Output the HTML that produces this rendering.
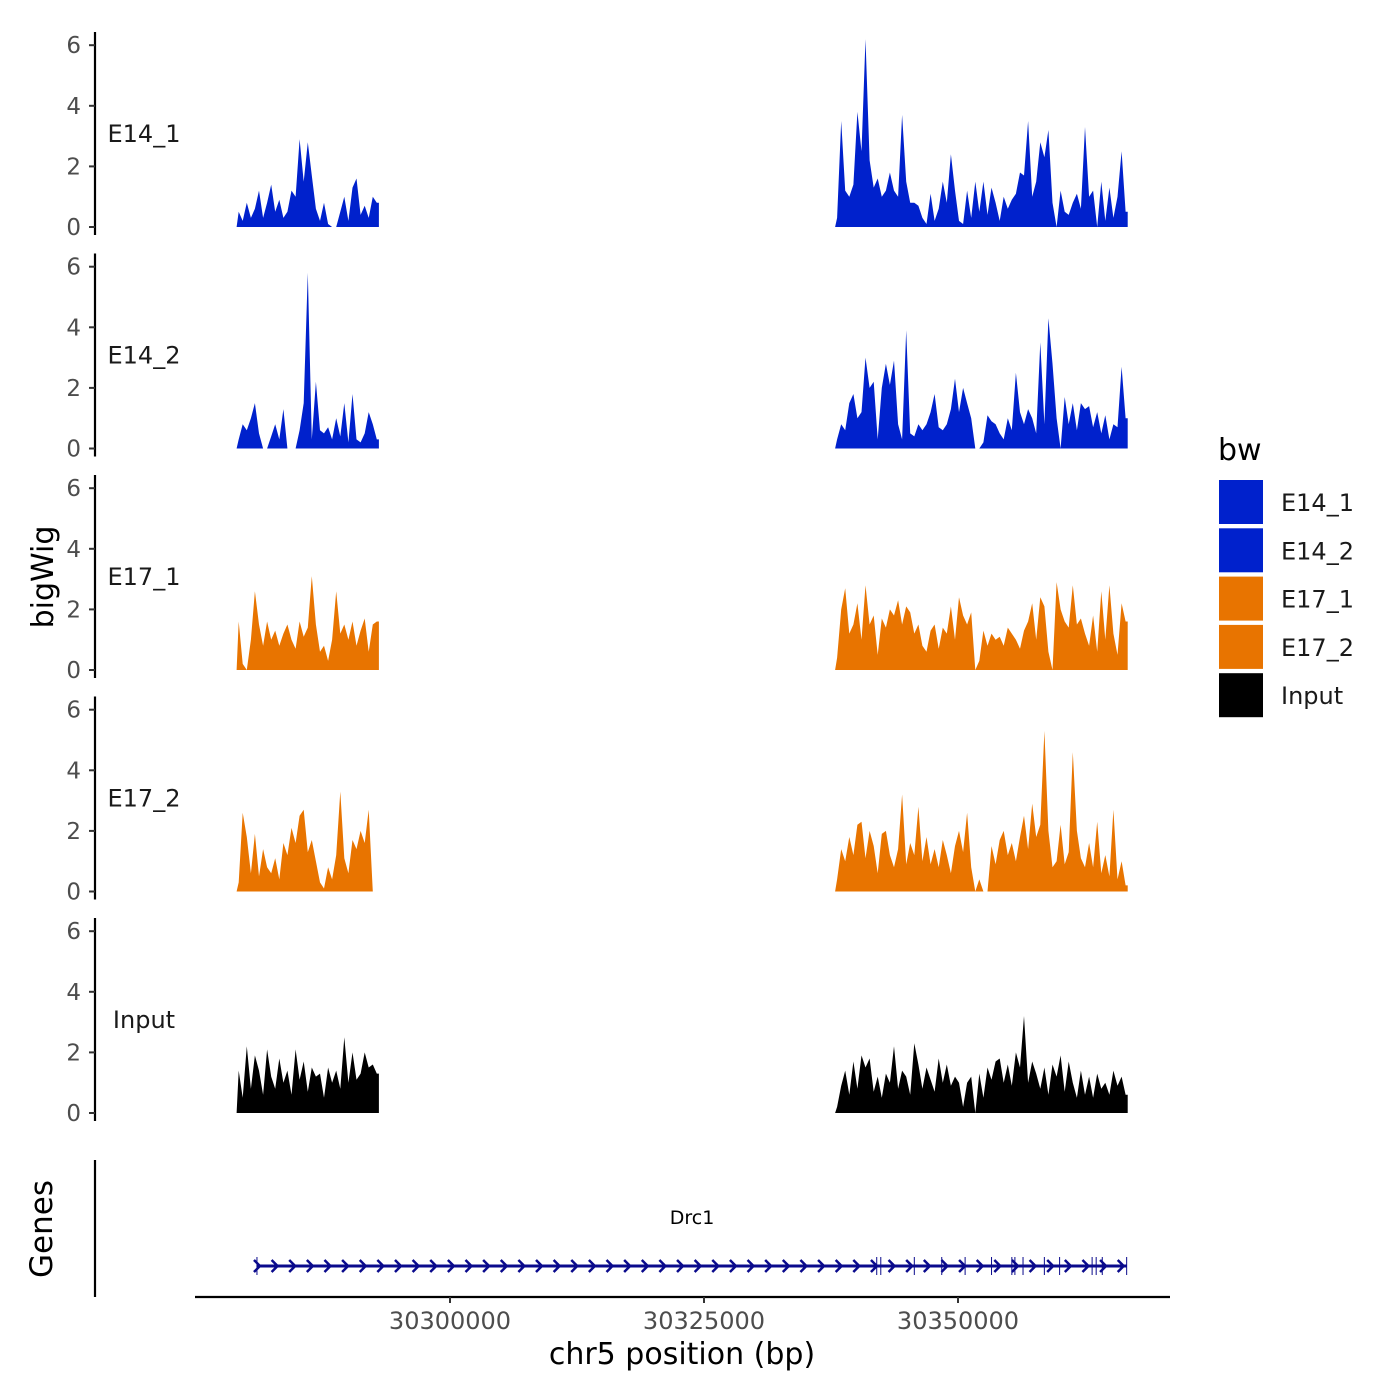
<!DOCTYPE html>
<html><head><meta charset="utf-8"><style>
body{margin:0;background:#fff}
svg{display:block;font-family:"DejaVu Sans","Liberation Sans",sans-serif}
</style></head><body>
<svg id="chart" width="1400" height="1400" viewBox="0 0 1400 1400"></svg>
<script>
const trackNames = ["E14_1","E14_2","E17_1","E17_2","Input"];
const trackColors = ["#0021CC","#0021CC","#E87400","#E87400","#000000"];
const yTicks = [0,2,4,6];
const xTicks = [30300000,30325000,30350000];
const xTickLabels = ["30300000","30325000","30350000"];
const leftStart = 30279000, rightStart = 30337900, binSize = 400;
const e14_1_left = [0.5,0.2,0.8,0.3,0.6,1.2,0.3,0.8,1.4,0.5,0.9,0.3,0.5,1.2,1.0,2.9,1.5,2.8,1.7,0.6,0.2,0.8,0.1,0,0,0.5,1.0,0.2,1.3,1.6,0.4,0.7,0.3,1.0,0.8];
const e14_1_right = [0.3,3.5,1.2,1.0,1.4,3.8,2.5,6.2,2.2,1.3,1.6,1.0,1.2,1.8,1.2,1.0,3.7,1.5,0.8,0.8,0.7,0.3,0.1,1.1,0.2,0.6,1.5,0.8,2.4,1.2,0.2,0.1,1.2,0.3,1.5,0.5,1.5,0.4,1.3,0.8,0.2,1.0,0.6,0.9,1.1,1.8,1.7,3.5,1.0,1.5,2.8,2.3,3.2,0.8,0.0,1.2,0.5,0.4,0.8,1.1,0.6,3.3,1.0,1.2,0.0,1.5,0.2,1.3,0.3,1.0,2.5,0.5];
const e14_2_left = [0.3,0.8,0.6,1.0,1.5,0.5,0,0,0.4,0.8,0.3,1.3,0,0,0,0.6,1.5,5.8,0.3,2.2,0.6,0.5,0.7,0.3,1.0,0.4,1.5,0.2,1.8,0.3,0.2,0.5,1.2,0.8,0.3];
const e14_2_right = [0.3,0.8,0.6,1.5,1.8,1.0,1.2,3.0,2.0,2.2,0.3,2.0,2.8,2.1,2.9,0.8,0.3,3.9,0.5,0.4,0.8,0.6,0.8,1.2,1.8,0.7,0.6,0.8,1.3,2.3,1.2,2.0,1.5,1.0,0,0,0.2,1.1,0.9,0.8,0.5,0.3,1.0,0.6,2.5,1.2,0.8,1.3,1.0,0.5,3.5,0.8,4.3,2.8,1.0,0,1.7,0.8,1.5,0.6,1.5,1.3,1.4,0.7,1.2,0.5,1.1,0.3,0.8,0.7,2.7,1.0];
const e17_1_left = [1.6,0.2,0,1.0,2.6,1.5,0.8,1.6,1.0,1.3,0.8,1.2,1.5,1.0,0.7,1.6,1.1,1.4,3.1,1.5,0.6,0.8,0.3,1.0,2.6,1.2,1.5,1.0,1.6,0.8,1.3,1.7,0.6,1.5,1.6];
const e17_1_right = [0.4,2.0,2.7,1.2,1.5,2.2,1.0,2.8,1.5,1.8,0.5,1.7,1.4,2.0,1.8,2.3,1.5,2.1,1.9,1.2,1.5,0.8,0.6,1.3,1.5,0.7,1.4,1.2,2.1,1.0,2.4,1.8,1.5,1.9,0,0.3,1.3,0.8,1.2,1.0,1.1,0.8,1.4,1.2,1.0,0.7,1.3,1.6,2.2,1.0,2.4,2.1,0.6,0,2.9,2.0,1.6,1.4,2.8,1.5,1.7,1.2,0.8,1.8,0.6,2.6,1.0,2.8,1.2,0.5,2.2,1.6];
const e17_2_left = [0.3,2.6,1.8,0.6,1.9,0.5,1.4,0.8,0.6,1.1,0.4,1.6,1.2,2.1,1.6,2.5,2.7,1.3,1.7,1.0,0.3,0.1,0.8,0.4,1.2,3.3,1.1,0.6,1.7,1.4,2.0,1.6,2.7,0];
const e17_2_right = [0.4,1.4,1.0,1.8,1.2,2.2,2.3,1.1,2.0,1.5,0.6,1.9,2.0,1.2,0.8,1.4,3.2,0.9,1.6,1.2,2.8,1.0,1.8,0.9,1.4,0.8,1.7,1.2,0.6,1.5,2.0,1.3,2.6,0.8,0,0.4,0,0,1.5,0.9,1.7,2.0,1.2,1.6,1.0,1.8,2.5,1.4,2.9,1.8,2.2,5.3,2.0,0.8,1.0,2.2,0.9,1.3,4.6,2.0,1.1,0.8,1.6,0.8,2.3,0.6,1.2,0.5,2.7,0.4,1.0,0.2];
const input_left = [1.4,0.5,2.2,0.8,1.9,1.4,0.6,2.1,1.2,0.8,1.8,1.0,1.4,0.6,2.1,1.1,1.7,0.7,1.5,1.2,1.3,0.5,1.5,1.0,1.4,0.8,2.5,1.0,2.0,1.1,1.3,2.0,1.5,1.6,1.3];
const input_right = [0.2,0.9,1.4,0.6,1.7,0.8,1.9,1.5,1.8,0.7,1.2,0.5,1.3,1.0,2.2,0.8,1.4,1.2,0.6,2.3,1.6,0.8,1.5,1.1,0.7,1.8,1.0,1.6,0.9,1.2,1.0,0.2,1.0,1.2,0,1.3,0.5,1.5,1.1,1.7,1.8,1.0,1.6,0.9,2.0,1.5,3.2,1.0,1.7,1.3,0.8,1.5,0.6,1.6,1.2,1.9,0.7,1.7,1.0,0.5,1.4,0.6,1.2,0.5,1.3,0.8,1.0,0.6,1.4,0.9,1.2,0.6];
const leftSeries = [e14_1_left,e14_2_left,e17_1_left,e17_2_left,input_left];
const rightSeries = [e14_1_right,e14_2_right,e17_1_right,e17_2_right,input_right];
const geneName = "Drc1";
const geneStart = 30281000, geneEnd = 30366600;
const exons = [30342000,30342400,30345700,30348400,30350700,30353300,30355300,30355600,30356400,30358500,30360000,30363200,30363600,30364200];

const NS="http://www.w3.org/2000/svg";
const svg=document.getElementById('chart');
function el(tag,attrs,parent,text){const e=document.createElementNS(NS,tag);for(const k in attrs)e.setAttribute(k,attrs[k]);if(text!==undefined)e.textContent=text;(parent||svg).appendChild(e);return e;}
const xScale=g=>450+(g-30300000)*0.01016;
const panelBase=[227,448.5,670,891.5,1113];
const yPx=30.3;
const yScale=(p,v)=>panelBase[p]-v*yPx;

for(let p=0;p<5;p++){
  const g=el('g',{});
  
  
  const top=panelBase[p]-195;
  const ax=el('line',{x1:95,x2:95,y1:top,y2:panelBase[p]+8,stroke:'#000','stroke-width':2.2},g);
  
  yTicks.forEach(t=>{
    const y=yScale(p,t);
    const tk=el('line',{x1:89,x2:95,y1:y,y2:y,stroke:'#333','stroke-width':2},g);
    
    const tl=el('text',{x:81,y:y+8,'text-anchor':'end','font-size':23,fill:'#4d4d4d'},g,String(t));
    
  });
  const lab=el('text',{x:144,y:panelBase[p]-85,'text-anchor':'middle','font-size':24,fill:'#1a1a1a'},g,trackNames[p]);
  
  [[leftSeries[p],leftStart],[rightSeries[p],rightStart]].forEach(([vals,start])=>{
    let pts=[[xScale(start),panelBase[p]]];
    vals.forEach((v,i)=>{pts.push([xScale(start+(i+0.5)*binSize),yScale(p,v)]);});
    pts.push([xScale(start+vals.length*binSize),yScale(p,vals[vals.length-1])]);
    pts.push([xScale(start+vals.length*binSize),panelBase[p]]);
    const a=el('polygon',{points:pts.map(q=>q[0].toFixed(1)+','+q[1].toFixed(1)).join(' '),fill:trackColors[p]},g);
    
  });
}
const yt=el('text',{x:0,y:0,transform:'translate(53,577) rotate(-90)','text-anchor':'middle','font-size':30,fill:'#000'},svg,'bigWig');

const gg=el('g',{});

const gax=el('line',{x1:95,x2:95,y1:1160,y2:1297,stroke:'#000','stroke-width':2.2},gg);

const gt=el('text',{x:0,y:0,transform:'translate(52,1229) rotate(-90)','text-anchor':'middle','font-size':31,fill:'#000'},gg,'Genes');

const gl=el('line',{x1:xScale(geneStart),x2:xScale(geneEnd),y1:1266,y2:1266,stroke:'#0a0a8c','stroke-width':3},gg);

for(let g=geneStart;g<geneEnd;g+=1735){
  const x=xScale(g);
  const c=el('polyline',{points:`${x-3},${1260} ${x+3},${1266} ${x-3},${1272}`,fill:'none',stroke:'#0a0a8c','stroke-width':2.5},gg);
  
}
exons.concat([geneStart,geneEnd]).forEach(e=>{
  const x=xScale(e);
  const ex=el('line',{x1:x,x2:x,y1:1257,y2:1275,stroke:'#0a0a8c','stroke-width':1},gg);
  
});
const gn=el('text',{x:692,y:1224,'text-anchor':'middle','font-size':19,fill:'#000'},gg,geneName);

const xa=el('line',{x1:195,x2:1170,y1:1297,y2:1297,stroke:'#000','stroke-width':2.2});

xTicks.forEach((t,i)=>{
  const x=xScale(t);
  const tk=el('line',{x1:x,x2:x,y1:1297,y2:1303,stroke:'#333','stroke-width':2});
  
  const tl=el('text',{x:x,y:1329,'text-anchor':'middle','font-size':24,fill:'#4d4d4d'},svg,xTickLabels[i]);
  
});
const xt=el('text',{x:682,y:1364,'text-anchor':'middle','font-size':30,fill:'#000'},svg,'chr5 position (bp)');

const lg=el('g',{});

const lt=el('text',{x:1218,y:460,'font-size':30,fill:'#000'},lg,'bw');

trackNames.forEach((n,i)=>{
  const y=480+i*48.3;
  const r=el('rect',{x:1219,y:y,width:44,height:44,fill:trackColors[i]},lg);
  
  const t=el('text',{x:1281,y:y+31,'font-size':24,fill:'#1a1a1a'},lg,n);
  
});
</script>
</body></html>
